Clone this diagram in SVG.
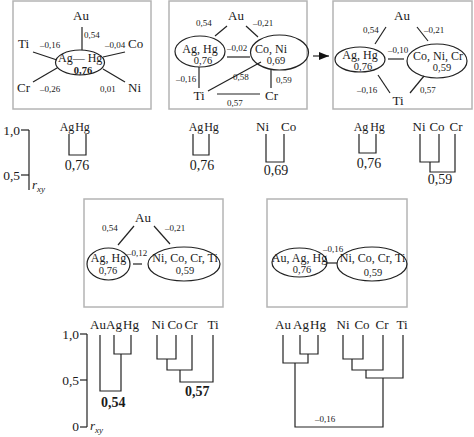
<svg xmlns="http://www.w3.org/2000/svg" width="474" height="437" viewBox="0 0 474 437">
<defs>
<style>
text{font-family:"Liberation Serif","Times New Roman",serif;fill:#1a1a1a}
.el{font-size:13px}
.dl{font-size:12px}
.sm{font-size:9px}
.lb{font-size:12px}
.v{font-size:10.5px}
.b{font-weight:bold}
.dv{font-size:14px}
.ax{font-size:13.5px}
.m{text-anchor:middle}
.e{text-anchor:end}
.box{fill:#fff;stroke:#b4b4b4;stroke-width:1.5}
.ell{fill:none;stroke:#222;stroke-width:1.2}
.ln{stroke:#222;stroke-width:1.2;fill:none}
</style>
<marker id="ah" viewBox="0 0 10 8" refX="10" refY="4" markerWidth="10" markerHeight="8" markerUnits="userSpaceOnUse" orient="auto">
<path d="M0,0 L10,4 L0,8 Z" fill="#111"/>
</marker>
</defs>
<rect width="474" height="437" fill="#fff"/>

<!-- Panel boxes -->
<g id="boxes">
<rect class="box" x="13" y="1" width="138" height="108"/>
<rect class="box" x="169" y="1" width="138" height="108"/>
<rect class="box" x="333" y="1" width="139" height="108"/>
<rect class="box" x="84" y="199" width="139" height="108"/>
<rect class="box" x="267" y="199" width="140" height="108"/>
</g>

<!-- Panel 1 nodes -->
<g id="p1-au"><text class="el m" x="81" y="20">Au</text></g>
<g id="p1-aghg"><ellipse class="ell" cx="80" cy="62.5" rx="24.5" ry="12.5"/><text class="lb" x="58" y="62">Ag— Hg</text><text class="v b m" x="83" y="73.5">0,76</text></g>
<g id="p1-ti"><text class="el" x="18" y="48">Ti</text></g>
<g id="p1-co"><text class="el" x="128" y="48">Co</text></g>
<g id="p1-cr"><text class="el" x="17" y="92">Cr</text></g>
<g id="p1-ni"><text class="el" x="128" y="92">Ni</text></g>

<!-- Panel 2 nodes -->
<g id="p2-au"><text class="el m" x="236" y="20">Au</text></g>
<g id="p2-aghg"><ellipse class="ell" cx="200" cy="51.5" rx="25" ry="15.5"/><text class="lb m" x="200" y="53">Ag, Hg</text><text class="v m" x="203" y="64">0,76</text></g>
<g id="p2-coni"><ellipse class="ell" cx="279.5" cy="52.5" rx="29" ry="17.5"/><text class="lb m" x="271" y="53">Co, Ni</text><text class="v m" x="276" y="64">0,69</text></g>
<g id="p2-ti"><text class="el m" x="199" y="100">Ti</text></g>
<g id="p2-cr"><text class="el" x="265" y="100">Cr</text></g>

<!-- Panel 3 nodes -->
<g id="p3-au"><text class="el m" x="402" y="20">Au</text></g>
<g id="p3-aghg"><ellipse class="ell" cx="360" cy="59.5" rx="25" ry="12.5"/><text class="lb m" x="360" y="59">Ag, Hg</text><text class="v m" x="363" y="69.5">0,76</text></g>
<g id="p3-conicr"><ellipse class="ell" cx="437" cy="61" rx="30" ry="17"/><text class="lb m" x="438" y="60">Co, Ni, Cr</text><text class="v m" x="442" y="71">0,59</text></g>
<g id="p3-ti"><text class="el m" x="398" y="105">Ti</text></g>

<!-- Panel 4 nodes -->
<g id="p4-au"><text class="el m" x="143" y="222">Au</text></g>
<g id="p4-aghg"><ellipse class="ell" cx="108.5" cy="264" rx="21.5" ry="16"/><text class="lb m" x="108.5" y="262">Ag, Hg</text><text class="v m" x="108" y="274">0,76</text></g>
<g id="p4-nicocrti"><ellipse class="ell" cx="184" cy="264" rx="36" ry="17"/><text class="lb m" x="185" y="262">Ni, Co, Cr, Ti</text><text class="v m" x="185" y="274">0,59</text></g>

<!-- Panel 5 nodes -->
<g id="p5-auaghg"><ellipse class="ell" cx="299.5" cy="262.5" rx="27.5" ry="14.5"/><text class="lb m" x="299.5" y="262">Au, Ag, Hg</text><text class="v m" x="302" y="273">0,76</text></g>
<g id="p5-nicocrti"><ellipse class="ell" cx="372" cy="264" rx="35" ry="17"/><text class="lb m" x="372.5" y="262">Ni, Co, Cr, Ti</text><text class="v m" x="373" y="276">0,59</text></g>

<!-- Connectors -->
<g id="connectors">
<!-- panel 1 -->
<line class="ln" x1="82" y1="27" x2="82" y2="50"/>
<line class="ln" x1="33" y1="52" x2="57" y2="60"/>
<line class="ln" x1="103" y1="57" x2="125" y2="52"/>
<line class="ln" x1="33" y1="82" x2="57" y2="68"/>
<line class="ln" x1="103" y1="69" x2="125" y2="82"/>
<!-- panel 2 -->
<line class="ln" x1="227" y1="26" x2="215" y2="36"/>
<line class="ln" x1="246" y1="26" x2="258" y2="37"/>
<line class="ln" x1="227" y1="57" x2="250" y2="57"/>
<line class="ln" x1="199" y1="67" x2="199" y2="88"/>
<line class="ln" x1="208" y1="91" x2="261" y2="62"/>
<line class="ln" x1="271" y1="70" x2="271" y2="88"/>
<line class="ln" x1="217" y1="94" x2="260" y2="94"/>
<!-- arrow -->
<line class="ln" x1="313" y1="56" x2="329" y2="56" marker-end="url(#ah)"/>
<!-- panel 3 -->
<line class="ln" x1="386" y1="27" x2="375" y2="44"/>
<line class="ln" x1="417" y1="27" x2="428" y2="41"/>
<line class="ln" x1="388" y1="59" x2="404" y2="59"/>
<line class="ln" x1="378" y1="75" x2="390" y2="93"/>
<line class="ln" x1="424" y1="76" x2="410" y2="93"/>
<!-- panel 4 -->
<line class="ln" x1="134" y1="226" x2="118" y2="245"/>
<line class="ln" x1="154" y1="226" x2="170" y2="244"/>
<line class="ln" x1="133" y1="264" x2="142" y2="264"/>
<!-- panel 5 -->
<line class="ln" x1="327" y1="263" x2="337" y2="263"/>
</g>

<!-- Connector labels -->
<g id="edge-labels">
<text class="sm" x="84" y="38">0,54</text>
<text class="sm" x="40" y="48">–0,16</text>
<text class="sm" x="105" y="48">–0,04</text>
<text class="sm" x="40" y="92">–0,26</text>
<text class="sm" x="100" y="92">0,01</text>

<text class="sm" x="196" y="26">0,54</text>
<text class="sm" x="253" y="26">–0,21</text>
<text class="sm" x="227" y="51">–0,02</text>
<text class="sm" x="176" y="82">–0,16</text>
<text class="sm" x="233" y="80">0,58</text>
<text class="sm" x="276" y="83">0,59</text>
<text class="sm" x="227" y="106">0,57</text>

<text class="sm" x="363" y="33">0,54</text>
<text class="sm" x="424" y="33">–0,21</text>
<text class="sm" x="388" y="53">–0,10</text>
<text class="sm" x="357" y="93">–0,16</text>
<text class="sm" x="420" y="93">0,57</text>

<text class="sm" x="102" y="231">0,54</text>
<text class="sm" x="165" y="231">–0,21</text>
<text class="sm" x="127" y="256">–0,12</text>

<text class="sm" x="323" y="252">–0,16</text>
</g>

<!-- Top dendrograms -->
<g id="axis-top">
<line class="ln" x1="29" y1="130" x2="29" y2="190"/>
<line class="ln" x1="21" y1="130" x2="29" y2="130"/>
<line class="ln" x1="21" y1="175" x2="29" y2="175"/>
<text class="ax e" x="20" y="135">1,0</text>
<text class="ax e" x="20" y="180">0,5</text>
<text class="el" x="32" y="189" font-style="italic">r<tspan font-size="9" dy="3">xy</tspan></text>
</g>
<g id="dendro-1">
<text class="dl m" x="67" y="131">Ag</text>
<text class="dl m" x="82.5" y="131">Hg</text>
<path class="ln" d="M69,134 V155 H86 V134"/>
<text class="dv m" x="77" y="170">0,76</text>
</g>
<g id="dendro-2a">
<text class="dl m" x="196" y="131">Ag</text>
<text class="dl m" x="211.5" y="131">Hg</text>
<path class="ln" d="M193,134 V155 H209 V134"/>
<text class="dv m" x="202" y="170">0,76</text>
</g>
<g id="dendro-2b">
<text class="el" x="256" y="131">Ni</text>
<text class="el" x="281" y="131">Co</text>
<path class="ln" d="M266,134 V162 H284 V134"/>
<text class="dv m" x="276" y="175">0,69</text>
</g>
<g id="dendro-3a">
<text class="dl m" x="361" y="131">Ag</text>
<text class="dl m" x="377.5" y="131">Hg</text>
<path class="ln" d="M359,134 V153 H376 V134"/>
<text class="dv m" x="369" y="168">0,76</text>
</g>
<g id="dendro-3b">
<text class="el m" x="419" y="131">Ni</text>
<text class="el m" x="437" y="131">Co</text>
<text class="el m" x="456" y="131">Cr</text>
<path class="ln" d="M420,134 V162 H439 V134"/>
<path class="ln" d="M430,162 V172 H455 V134"/>
<text class="dv m" x="440" y="184">0,59</text>
</g>

<!-- Bottom dendrograms -->
<g id="axis-bottom">
<line class="ln" x1="87" y1="334" x2="87" y2="427"/>
<line class="ln" x1="80" y1="334" x2="87" y2="334"/>
<line class="ln" x1="80" y1="380" x2="87" y2="380"/>
<line class="ln" x1="80" y1="427" x2="87" y2="427"/>
<text class="ax e" x="79" y="339">1,0</text>
<text class="ax e" x="79" y="385">0,5</text>
<text class="ax e" x="79" y="431">0</text>
<text class="el" x="90" y="430" font-style="italic">r<tspan font-size="9" dy="3">xy</tspan></text>
</g>
<g id="dendro-4">
<text class="el m" x="98" y="329">Au</text>
<text class="el m" x="114" y="329">Ag</text>
<text class="el m" x="131" y="329">Hg</text>
<text class="el m" x="158" y="329">Ni</text>
<text class="el m" x="175" y="329">Co</text>
<text class="el m" x="191" y="329">Cr</text>
<text class="el m" x="213" y="329">Ti</text>
<path class="ln" d="M114,335 V354 H131 V335"/>
<path class="ln" d="M121,354 V391 H100 V335"/>
<path class="ln" d="M157,335 V359 H176 V335"/>
<path class="ln" d="M167,359 V370 H192 V335"/>
<path class="ln" d="M180,370 V382 H213 V335"/>
<text class="dv b" x="101" y="407">0,54</text>
<text class="dv b" x="185" y="396">0,57</text>
</g>
<g id="dendro-5">
<text class="el m" x="283" y="329">Au</text>
<text class="el m" x="301" y="329">Ag</text>
<text class="el m" x="318" y="329">Hg</text>
<text class="el m" x="343" y="329">Ni</text>
<text class="el m" x="362" y="329">Co</text>
<text class="el m" x="382" y="329">Cr</text>
<text class="el m" x="402" y="329">Ti</text>
<path class="ln" d="M300,335 V354 H318 V335"/>
<path class="ln" d="M308,354 V363 H283 V335"/>
<path class="ln" d="M343,335 V359 H363 V335"/>
<path class="ln" d="M352,359 V370 H383 V335"/>
<path class="ln" d="M366,370 V378 H403 V335"/>
<path class="ln" d="M295,363 V427 H383 V378"/>
<text class="sm" x="315" y="422" font-size="10">–0,16</text>
</g>
</svg>
